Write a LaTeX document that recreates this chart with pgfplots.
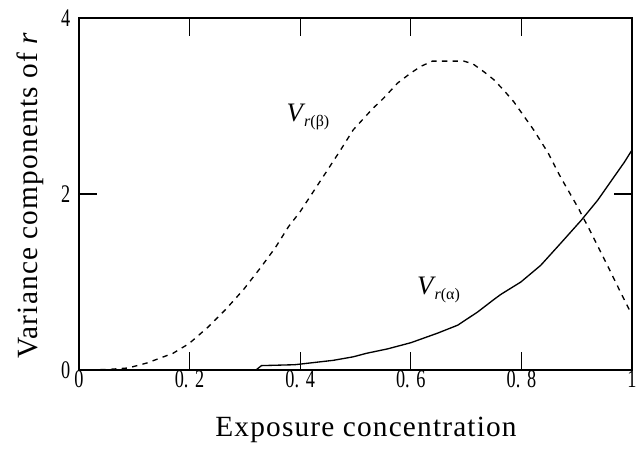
\documentclass[border=0pt]{standalone}
\usepackage{fontspec}
\setmainfont{Liberation Serif}
\usepackage{graphicx}
\usepackage{pgfplots}
\pgfplotsset{compat=1.18}

\newcommand{\lbl}{\fontsize{22}{22}\selectfont\addfontfeatures{LetterSpace=4}}
\newcommand{\tl}[1]{\scalebox{0.72}[1]{\fontsize{19}{19}\selectfont #1}}
\newcommand{\td}[1]{\tl{0.\kern7pt#1}}
\begin{document}
\begin{tikzpicture}
\begin{axis}[
    scale only axis,
    width=414.75pt, height=264pt,
    xmin=0, xmax=1, ymin=0, ymax=4,
    axis line style={line width=1.3pt},
    tick style={line width=1pt, black},
    major tick length=13.5pt,
    tick align=inside,
    xtick={0,0.2,0.4,0.6,0.8,1},
    xticklabels={\tl{0},\td{2},\td{4},\td{6},\td{8},\tl{1}},
    ytick={0,2,4},
    yticklabels={\tl{0},\tl{2},\tl{4}},
    xtick pos=both, ytick pos=both,
    /pgf/number format/assume math mode=true,
    xticklabel style={yshift=3pt},
    yticklabel style={xshift=-3pt},
    xlabel={Exposure concentration},
    ylabel={Variance components of \textit{r}},
    label style={font=\lbl},
    xlabel style={at={(rel axis cs:0.519,0)}, anchor=center, yshift=-45pt},
    ylabel style={at={(rel axis cs:0,0.497)}, anchor=center, yshift=36.75pt},
    clip=false,
]
\addplot[black, line width=1pt, dash pattern=on 4pt off 4pt] coordinates {
(0,0) (0.05,0.005) (0.089,0.023) (0.123,0.08) (0.170,0.19) (0.199,0.30)
(0.232,0.48) (0.264,0.68) (0.297,0.91) (0.328,1.16) (0.355,1.39) (0.379,1.63)
(0.400,1.80) (0.422,2.01) (0.446,2.24) (0.473,2.50) (0.496,2.73) (0.531,2.97)
(0.551,3.09) (0.576,3.26) (0.600,3.375) (0.618,3.45) (0.639,3.51) (0.696,3.51)
(0.712,3.48) (0.732,3.39) (0.750,3.30) (0.768,3.18) (0.786,3.05) (0.822,2.73)
(0.848,2.47) (0.871,2.19) (0.902,1.85) (0.926,1.56) (0.957,1.17) (0.980,0.875)
(1.0,0.625)
};
\addplot[black, line width=1pt] coordinates {
(0,0) (0.32,0) (0.33,0.05) (0.39,0.06) (0.418,0.08) (0.46,0.11) (0.496,0.15)
(0.52,0.19) (0.558,0.24) (0.6,0.31) (0.649,0.42) (0.685,0.51) (0.721,0.66)
(0.75,0.80) (0.763,0.86) (0.799,1.0) (0.835,1.19) (0.871,1.44) (0.908,1.70)
(0.938,1.93) (0.967,2.19) (0.986,2.36) (1.0,2.5)
};
\node[inner sep=0pt] at (axis cs:0.414,2.875) {\fontsize{20}{20}\selectfont\textit{V}\hspace{-1pt}\raisebox{-4pt}{\fontsize{12}{12}\selectfont\textit{r}(β)}};
\node[inner sep=0pt] at (axis cs:0.65,0.91) {\fontsize{20}{20}\selectfont\textit{V}\hspace{-1pt}\raisebox{-4pt}{\fontsize{12}{12}\selectfont\textit{r}(α)}};
\end{axis}
\pgfresetboundingbox
\path (-59.25pt,-60.75pt) rectangle (420pt,277.5pt);
\end{tikzpicture}
\end{document}
